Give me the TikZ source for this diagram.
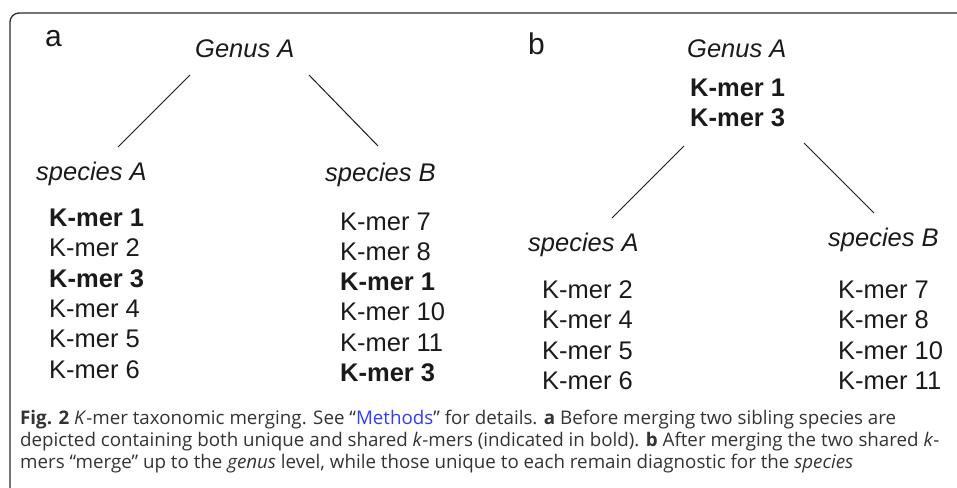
\documentclass[tikz,border=0pt]{standalone}
\usepackage{fontspec}
\setmainfont{Liberation Sans}
\newfontfamily\capfont{Open Sans}
\definecolor{ink}{HTML}{1A1A1A}
\definecolor{capgray}{HTML}{333333}
\definecolor{linkblue}{HTML}{2F3DF5}
\definecolor{framegray}{HTML}{2A2A2A}
\begin{document}
\begin{tikzpicture}[x=1pt,y=1pt,
  lbl/.style={inner sep=0pt, anchor=base west, text=ink, font=\fontsize{25.5}{30}\selectfont},
  panel/.style={lbl, font=\fontsize{30}{34}\selectfont},
  kbold/.style={lbl, font=\fontsize{25.5}{30}\selectfont\bfseries},
  tax/.style={lbl, font=\fontsize{25.5}{30}\selectfont\itshape},
  branch/.style={draw=ink, line width=1pt},
  capline/.style={inner sep=0pt, anchor=base west, text=capgray, font=\capfont\fontsize{18.75}{22}\selectfont}]
\useasboundingbox (0,0) rectangle (957,-487);
\draw[framegray, line width=1.3pt, rounded corners=9pt] (965,-13) -- (10,-13) -- (10,-495);

% panel a
\node[panel] (la) at (45,-47) {a};
\node[tax] (ga) at (195,-57) {Genus A};
\node[tax] (sAa) at (36,-180) {species A};
\node[tax] (sBa) at (325,-181.5) {species B};
\node[kbold] (a1) at (49,-226.6) {K-mer 1};
\node[lbl]   (a2) at (49,-256.8) {K-mer 2};
\node[kbold] (a3) at (49,-287.1) {K-mer 3};
\node[lbl]   (a4) at (49,-317.4) {K-mer 4};
\node[lbl]   (a5) at (49,-347.7) {K-mer 5};
\node[lbl]   (a6) at (49,-378) {K-mer 6};
\node[lbl]   (b7) at (340,-230) {K-mer 7};
\node[lbl]   (b8) at (340,-260.3) {K-mer 8};
\node[kbold] (b1) at (340,-290.6) {K-mer 1};
\node[lbl]   (b10) at (340,-320.9) {K-mer 10};
\node[lbl]   (b11) at (340,-351.2) {K-mer 11};
\node[kbold] (b3) at (340,-381.5) {K-mer 3};
\coordinate (ga-l) at (190,-75);
\coordinate (sAa-t) at (118,-147);
\coordinate (ga-r) at (309,-75);
\coordinate (sBa-t) at (378,-146);
\draw[branch] (ga-l) -- (sAa-t);
\draw[branch] (ga-r) -- (sBa-t);

% panel b
\node[panel] (lb) at (528,-54) {b};
\node[tax] (gb) at (687,-58) {Genus A};
\node[kbold] (g1) at (690,-96.7) {K-mer 1};
\node[kbold] (g3) at (690,-126.7) {K-mer 3};
\node[tax] (sAb) at (528,-251) {species A};
\node[tax] (sBb) at (828,-246) {species B};
\node[lbl] (c2) at (542,-298) {K-mer 2};
\node[lbl] (c4) at (542,-328.5) {K-mer 4};
\node[lbl] (c5) at (542,-359) {K-mer 5};
\node[lbl] (c6) at (542,-389) {K-mer 6};
\node[lbl] (d7) at (838,-298) {K-mer 7};
\node[lbl] (d8) at (838,-328.5) {K-mer 8};
\node[lbl] (d10) at (838,-359) {K-mer 10};
\node[lbl] (d11) at (838,-389) {K-mer 11};
\coordinate (gb-l) at (684,-146);
\coordinate (sAb-t) at (612,-218);
\coordinate (gb-r) at (804,-143);
\coordinate (sBb-t) at (874,-213);
\draw[branch] (gb-l) -- (sAb-t);
\draw[branch] (gb-r) -- (sBb-t);

% caption
\node[capline] (cap1) at (20,-424.5) {\textbf{Fig. 2} \textit{K}-mer taxonomic merging. See “\textcolor{linkblue}{Methods}” for details. \textbf{a} Before merging two sibling species are};
\node[capline] (cap2) at (20,-446.7) {depicted containing both unique and shared \textit{k}-mers (indicated in bold). \textbf{b} After merging the two shared \textit{k}-};
\node[capline] (cap3) at (20,-468.9) {mers “merge” up to the \textit{genus} level, while those unique to each remain diagnostic for the \textit{species}};
\end{tikzpicture}
\end{document}
